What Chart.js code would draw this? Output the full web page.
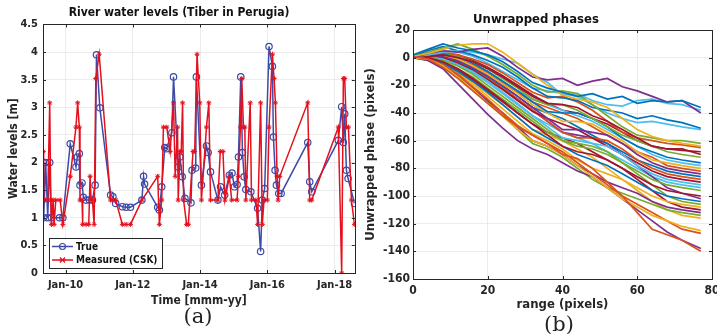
<!DOCTYPE html>
<html>
<head>
<meta charset="utf-8">
<script src="https://cdn.jsdelivr.net/npm/chart.js@4.4.1/dist/chart.umd.min.js"></script>
<style>
  html, body { margin: 0; padding: 0; background: #fff; overflow: hidden; width: 717px; height: 334px; }
  canvas { position: absolute; top: 0; }
  #levels { left: 0; }
  #phases { left: 360px; }
  .tag { position: absolute; font-family: 'DejaVu Serif', serif; font-size: 21px; line-height: 24px; color: #222; transform: translateX(-50%); }
</style>
</head>
<body>
<canvas id="levels" width="360" height="334"></canvas>
<canvas id="phases" width="372" height="334"></canvas>
<div class="tag" style="left:198px; top:304px">(a)</div>
<div class="tag" style="left:559px; top:312px">(b)</div>
<script>
// (a) river levels, dates as decimal years
var trueDates = [2009.34, 2009.35, 2009.41, 2009.47, 2009.53, 2009.58, 2009.82, 2009.92,
  2010.14, 2010.31, 2010.35, 2010.41, 2010.43, 2010.49, 2010.53, 2010.61, 2010.71, 2010.80, 2010.88, 2010.92,
  2011.02, 2011.34, 2011.41, 2011.49, 2011.69, 2011.80, 2011.93,
  2012.27, 2012.32, 2012.35, 2012.74, 2012.79, 2012.86, 2012.95,
  2013.00, 2013.16, 2013.21, 2013.35, 2013.40, 2013.47, 2013.55, 2013.73, 2013.76, 2013.87, 2013.89,
  2014.04, 2014.19, 2014.24, 2014.31, 2014.53, 2014.61, 2014.73, 2014.87, 2014.95,
  2015.02, 2015.10, 2015.14, 2015.21, 2015.26, 2015.31, 2015.36, 2015.51, 2015.71, 2015.80, 2015.85, 2015.92,
  2016.05, 2016.15, 2016.18, 2016.23, 2016.27, 2016.34, 2016.41,
  2017.20, 2017.26, 2017.32,
  2018.11, 2018.21, 2018.26, 2018.30, 2018.35, 2018.40, 2018.59];
var trueLevels = [2.0, 1.0, 2.0, 1.0, 2.0, 1.0, 1.0, 1.0,
  2.34, 1.92, 2.10, 2.16, 1.59, 1.63, 1.37, 1.32, 1.32, 1.32, 1.59, 3.95,
  2.99, 1.41, 1.38, 1.26, 1.20, 1.19, 1.19,
  1.32, 1.75, 1.61, 1.19, 1.14, 1.56, 2.27,
  2.25, 2.54, 3.55, 1.92, 2.10, 1.74, 1.35, 1.27, 1.86, 1.90, 3.55,
  1.59, 2.30, 2.18, 1.83, 1.32, 1.56, 1.41, 1.77, 1.81,
  1.56, 1.60, 2.10, 3.55, 2.18, 1.74, 1.51, 1.47, 1.17, 0.39, 1.32, 1.53,
  4.10, 3.74, 2.46, 1.86, 1.59, 1.44, 1.44,
  2.36, 1.65, 1.47,
  2.40, 3.01, 2.36, 2.88, 1.86, 1.71, 1.26];

var cskDates = [2009.34, 2009.35, 2009.41, 2009.47, 2009.53, 2009.56, 2009.58, 2009.63, 2009.66, 2009.71, 2009.84, 2009.92,
  2010.14, 2010.31, 2010.36, 2010.41, 2010.43, 2010.49, 2010.51, 2010.61, 2010.69, 2010.73, 2010.76, 2010.80, 2010.85, 2010.90,
  2011.00, 2011.34, 2011.41, 2011.49, 2011.69, 2011.80, 2011.93,
  2012.27, 2012.74, 2012.79, 2012.86, 2012.91,
  2013.01, 2013.11, 2013.21, 2013.26, 2013.33, 2013.35, 2013.40, 2013.44, 2013.48, 2013.51, 2013.60, 2013.65, 2013.79, 2013.84, 2013.91, 2013.99,
  2014.04, 2014.19, 2014.26, 2014.31, 2014.53, 2014.60, 2014.68, 2014.74, 2014.87, 2014.94,
  2015.10, 2015.14, 2015.20, 2015.24, 2015.29, 2015.33, 2015.36, 2015.49, 2015.53, 2015.66, 2015.71, 2015.80, 2015.85, 2015.90,
  2016.00, 2016.05, 2016.15, 2016.20, 2016.24, 2016.29, 2016.32, 2016.37,
  2017.20, 2017.26, 2017.32,
  2018.11, 2018.21, 2018.26, 2018.30, 2018.35, 2018.41, 2018.50, 2018.59];
var cskLevels = [2.2, 1.32, 1.32, 1.32, 3.08, 1.32, 0.88, 1.32, 0.88, 1.32, 1.32, 0.88,
  1.75, 2.64, 3.08, 2.64, 1.32, 1.32, 0.88, 0.88, 0.88, 1.75, 1.32, 1.32, 0.88, 3.52,
  3.96, 1.32, 1.32, 1.32, 0.88, 0.88, 0.88,
  1.32, 1.75, 0.88, 1.32, 2.64,
  2.64, 2.2, 3.08, 1.75, 2.64, 1.32, 2.2, 2.2, 3.08, 1.32, 0.88, 0.88, 2.2, 2.2, 3.96, 3.08,
  1.32, 2.64, 3.08, 1.32, 1.32, 2.2, 2.2, 1.32, 1.75, 1.32,
  1.32, 1.75, 2.64, 3.52, 2.64, 2.64, 1.32, 3.08, 1.32, 1.32, 0.88, 3.08, 0.88, 1.32,
  1.32, 2.64, 3.96, 3.52, 3.08, 1.75, 1.32, 1.75,
  3.08, 1.32, 1.32,
  2.64, 0, 3.52, 3.52, 2.64, 2.64, 1.32, 0.88];

var yearTicks = [2010, 2012, 2014, 2016, 2018];
var yearLabels = ['Jan-10', 'Jan-12', 'Jan-14', 'Jan-16', 'Jan-18'];

// (b) unwrapped phase per range pixel, one row per azimuth line
var phaseRange = [0, 4, 8, 12, 16, 20, 24, 28, 32, 36, 40, 44, 48, 52, 56, 60, 64, 68, 72, 77];
var phaseSeries = [
  [2, 6, 10, 7, 5, 2, -3, -10, -18, -22, -25, -28, -26, -30, -28, -33, -31, -32, -31, -36],
  [1, -1, -7, -15, -24, -33, -42, -50, -56, -62, -70, -73, -80, -90, -100, -112, -124, -128, -132, -140],
  [1, 3, 6, 9, 10, 10, 4, -4, -12, -20, -27, -30, -32, -36, -44, -52, -57, -60, -62, -64],
  [0, 3, 5, 4, 6, 7, 1, -7, -14, -16, -15, -20, -17, -15, -21, -24, -28, -32, -31, -40],
  [0, 4, 7, 10, 6, 1, -5, -12, -20, -25, -24, -26, -34, -42, -50, -56, -58, -60, -60, -62],
  [1, 2, 4, 5, 4, 2, -1, -4, -12, -18, -27, -26, -31, -34, -35, -31, -30, -33, -34, -38],
  [0, 1, 2, 0, -3, -8, -14, -21, -28, -33, -34, -36, -42, -46, -52, -58, -64, -66, -67, -68],
  [1, 5, 8, 5, 2, -2, -7, -14, -22, -28, -29, -31, -36, -38, -40, -44, -42, -45, -47, -51],
  [0, 2, 4, 2, -1, -5, -11, -18, -25, -29, -28, -32, -38, -46, -54, -58, -60, -62, -63, -65],
  [0, -1, -6, -14, -23, -33, -42, -52, -60, -64, -70, -78, -86, -94, -102, -108, -114, -118, -122, -125],
  [0, -2, -8, -19, -30, -41, -51, -60, -66, -70, -76, -82, -86, -94, -102, -110, -118, -126, -132, -138],
  [1, 3, 4, 1, -3, -8, -15, -22, -30, -34, -34, -38, -44, -50, -56, -60, -64, -68, -70, -72],
  [0, 2, 5, 4, 1, -4, -10, -16, -22, -24, -26, -28, -34, -40, -44, -47, -46, -48, -50, -52],
  [0, 0, -3, -8, -15, -23, -31, -40, -48, -56, -64, -68, -70, -74, -80, -86, -92, -96, -98, -100],
  [0, 2, 3, 1, -4, -10, -17, -24, -32, -39, -40, -40, -44, -50, -58, -64, -68, -72, -74, -76],
  [0, -1, -5, -12, -21, -30, -40, -49, -56, -62, -68, -76, -84, -92, -100, -106, -112, -118, -124, -127],
  [0, 3, 2, -1, -6, -12, -19, -26, -34, -40, -46, -46, -48, -54, -60, -68, -74, -76, -78, -80],
  [0, 1, 1, -2, -7, -13, -20, -28, -36, -44, -52, -52, -54, -56, -62, -70, -76, -80, -82, -84],
  [0, 0, -2, -6, -12, -20, -28, -36, -44, -52, -60, -64, -66, -70, -76, -82, -88, -92, -94, -96],
  [0, 1, -1, -5, -10, -17, -25, -33, -42, -50, -58, -60, -62, -64, -70, -78, -84, -88, -90, -92],
  [0, 1, 0, -4, -9, -16, -23, -31, -39, -44, -48, -52, -58, -64, -70, -76, -82, -86, -88, -90],
  [1, 0, -4, -10, -17, -25, -34, -43, -52, -58, -64, -70, -74, -78, -84, -90, -96, -100, -102, -104],
  [1, 2, 0, -4, -9, -15, -22, -30, -38, -46, -54, -58, -58, -60, -66, -74, -80, -84, -86, -88],
  [0, -1, -5, -11, -19, -28, -37, -46, -55, -60, -66, -74, -80, -84, -88, -94, -100, -104, -106, -108],
  [0, -1, -6, -13, -22, -31, -40, -50, -60, -64, -70, -78, -84, -90, -94, -98, -104, -108, -110, -112],
  [0, -2, -7, -14, -23, -32, -42, -52, -62, -66, -72, -80, -88, -94, -98, -102, -106, -110, -112, -114],
  [1, 3, 2, 0, -4, -10, -17, -24, -30, -34, -38, -42, -46, -52, -58, -64, -70, -74, -76, -78],
  [0, 2, 3, 2, -2, -7, -13, -20, -27, -33, -38, -40, -44, -48, -54, -60, -64, -66, -66, -70],
  [0, 2, 1, -3, -8, -14, -21, -28, -36, -40, -44, -50, -56, -62, -68, -74, -78, -82, -84, -86],
  [0, 1, 2, -1, -5, -11, -18, -25, -32, -36, -40, -44, -50, -56, -62, -68, -72, -78, -80, -82],
  [0, -1, -5, -11, -18, -26, -34, -43, -52, -56, -60, -66, -72, -80, -88, -96, -104, -110, -114, -116],
  [0, 1, 0, -3, -8, -14, -22, -30, -38, -46, -54, -56, -58, -62, -70, -78, -86, -94, -98, -102],
  [0, 0, -3, -8, -14, -22, -30, -38, -46, -54, -60, -62, -64, -68, -76, -84, -92, -100, -104, -106],
  [0, 1, -1, -5, -11, -18, -26, -34, -42, -48, -54, -58, -62, -68, -74, -80, -86, -90, -92, -94],
  [0, -1, -4, -9, -16, -24, -32, -40, -48, -54, -58, -62, -68, -74, -80, -88, -96, -104, -108, -110]
];

// matlab default colour order
var lineColors = ['#0072BD', '#D95319', '#EDB120', '#7E2F8E', '#77AC30', '#4DBEEE', '#A2142F'];

var fontStack = "'DejaVu Sans Condensed', 'DejaVu Sans'";
Chart.defaults.font.family = fontStack;
Chart.defaults.font.weight = 'bold';
Chart.defaults.color = '#262626';
Chart.defaults.animation = false;

// box round the axes with small inward ticks, like matlab "box on"
var frame = {
  id: 'frame',
  afterDraw: function(chart) {
    var ctx = chart.ctx, a = chart.chartArea;
    var sx = chart.scales.x, sy = chart.scales.y;
    ctx.save();
    ctx.strokeStyle = '#262626';
    ctx.lineWidth = 1;
    ctx.strokeRect(Math.round(a.left) + 0.5, Math.round(a.top) + 0.5, Math.round(a.width), Math.round(a.height));
    ctx.beginPath();
    sx.ticks.forEach(function(t) {
      var px = Math.round(sx.getPixelForValue(t.value)) + 0.5;
      ctx.moveTo(px, a.bottom); ctx.lineTo(px, a.bottom - 3);
      ctx.moveTo(px, a.top); ctx.lineTo(px, a.top + 3);
    });
    sy.ticks.forEach(function(t) {
      var py = Math.round(sy.getPixelForValue(t.value)) + 0.5;
      ctx.moveTo(a.left, py); ctx.lineTo(a.left + 3, py);
      ctx.moveTo(a.right, py); ctx.lineTo(a.right - 3, py);
    });
    ctx.stroke();
    ctx.restore();
  }
};

// legend box in the lower left corner of panel (a)
var boxLegend = {
  id: 'boxLegend',
  afterDraw: function(chart) {
    var ctx = chart.ctx, a = chart.chartArea;
    var x0 = Math.round(a.left) + 6, y0 = Math.round(a.bottom) - 35;
    ctx.save();
    ctx.fillStyle = '#fff';
    ctx.fillRect(x0, y0, 113, 30);
    ctx.strokeStyle = '#262626';
    ctx.lineWidth = 1;
    ctx.strokeRect(x0 + 0.5, y0 + 0.5, 113, 30);
    ctx.font = 'bold 10px ' + fontStack;
    ctx.textBaseline = 'middle';
    chart.data.datasets.forEach(function(ds, i) {
      var cy = y0 + 8.5 + i * 13.5, mx = x0 + 13.5;
      ctx.strokeStyle = ds.borderColor;
      ctx.lineWidth = 1.5;
      ctx.beginPath();
      ctx.moveTo(x0 + 3, cy); ctx.lineTo(x0 + 24, cy);
      ctx.stroke();
      ctx.lineWidth = 1.2;
      ctx.beginPath();
      if (ds.pointStyle === 'circle') {
        ctx.arc(mx, cy, 3, 0, Math.PI * 2);
      } else {
        ctx.moveTo(mx - 2.5, cy - 2.5); ctx.lineTo(mx + 2.5, cy + 2.5);
        ctx.moveTo(mx - 2.5, cy + 2.5); ctx.lineTo(mx + 2.5, cy - 2.5);
        ctx.moveTo(mx - 3, cy); ctx.lineTo(mx + 3, cy);
      }
      ctx.stroke();
      ctx.fillStyle = '#111';
      ctx.fillText(ds.label, x0 + 27, cy + 0.5);
    });
    ctx.restore();
  }
};

function toPoints(xs, ys) {
  return xs.map(function(x, i) { return { x: x, y: ys[i] }; });
}

var gridStyle = { color: '#e4e4e4', lineWidth: 0.7, drawTicks: false };

new Chart(document.getElementById('levels'), {
  type: 'line',
  data: {
    datasets: [{
      label: 'True',
      data: toPoints(trueDates, trueLevels),
      borderColor: '#3d4aa8',
      backgroundColor: 'rgba(255,255,255,0)',
      borderWidth: 1.5,
      pointStyle: 'circle',
      pointRadius: 3.2,
      pointBorderWidth: 1.2,
      pointBorderColor: '#3d4aa8',
      pointBackgroundColor: 'rgba(255,255,255,0)',
      order: 1
    }, {
      label: 'Measured (CSK)',
      data: toPoints(cskDates, cskLevels),
      borderColor: '#e5101d',
      backgroundColor: '#e5101d',
      borderWidth: 1.5,
      pointStyle: 'star',
      pointRadius: 2.5,
      pointBorderWidth: 1,
      pointBorderColor: '#e5101d',
      order: 0
    }]
  },
  options: {
    responsive: false,
    layout: { padding: { left: 0, right: 2, top: 0, bottom: 0 } },
    plugins: {
      legend: { display: false },
      tooltip: { enabled: false },
      title: {
        display: true,
        text: 'River water levels (Tiber in Perugia)',
        font: { size: 12, weight: 'bold' },
        color: '#111',
        padding: { top: 6, bottom: 4 }
      }
    },
    scales: {
      x: {
        type: 'linear',
        min: 2009.33,
        max: 2018.6,
        afterBuildTicks: function(scale) {
          scale.ticks = yearTicks.map(function(v) { return { value: v }; });
        },
        afterFit: function(scale) { scale.height = 61; },
        ticks: {
          font: { size: 11 },
          padding: 6,
          maxRotation: 0,
          callback: function(v) { return yearLabels[yearTicks.indexOf(v)]; }
        },
        grid: gridStyle,
        border: { display: false },
        title: { display: true, text: 'Time [mmm-yy]', font: { size: 12 }, padding: { bottom: 26 } }
      },
      y: {
        min: 0,
        max: 4.5,
        afterFit: function(scale) { scale.width = 43; },
        ticks: { stepSize: 0.5, font: { size: 11 }, padding: 5, callback: function(v) { return String(v); } },
        grid: gridStyle,
        border: { display: false },
        title: { display: true, text: 'Water levels [m]', font: { size: 12 }, padding: { top: 7 } }
      }
    }
  },
  plugins: [frame, boxLegend]
});

new Chart(document.getElementById('phases'), {
  type: 'line',
  data: {
    datasets: phaseSeries.map(function(row, i) {
      return {
        label: 'line ' + (i + 1),
        data: toPoints(phaseRange, row),
        borderColor: lineColors[i % lineColors.length],
        borderWidth: 1.7,
        pointRadius: 0
      };
    })
  },
  options: {
    responsive: false,
    layout: { padding: { left: 0, right: 20, top: 0, bottom: 0 } },
    plugins: {
      legend: { display: false },
      tooltip: { enabled: false },
      title: {
        display: true,
        text: 'Unwrapped phases',
        font: { size: 13, weight: 'bold' },
        color: '#111',
        padding: { top: 12, bottom: 2.4 }
      }
    },
    scales: {
      x: {
        type: 'linear',
        min: 0,
        max: 80,
        afterFit: function(scale) { scale.height = 55; },
        ticks: { stepSize: 20, font: { size: 12 }, padding: 5, maxRotation: 0 },
        grid: gridStyle,
        border: { display: false },
        title: { display: true, text: 'range (pixels)', font: { size: 13 }, padding: { bottom: 22 } }
      },
      y: {
        min: -160,
        max: 20,
        afterFit: function(scale) { scale.width = 53; },
        ticks: { stepSize: 20, font: { size: 12 }, padding: 3 },
        grid: gridStyle,
        border: { display: false },
        title: { display: true, text: 'Unwrapped phase (pixels)', font: { size: 13 }, padding: { top: 3 } }
      }
    }
  },
  plugins: [frame]
});
</script>
</body>
</html>
